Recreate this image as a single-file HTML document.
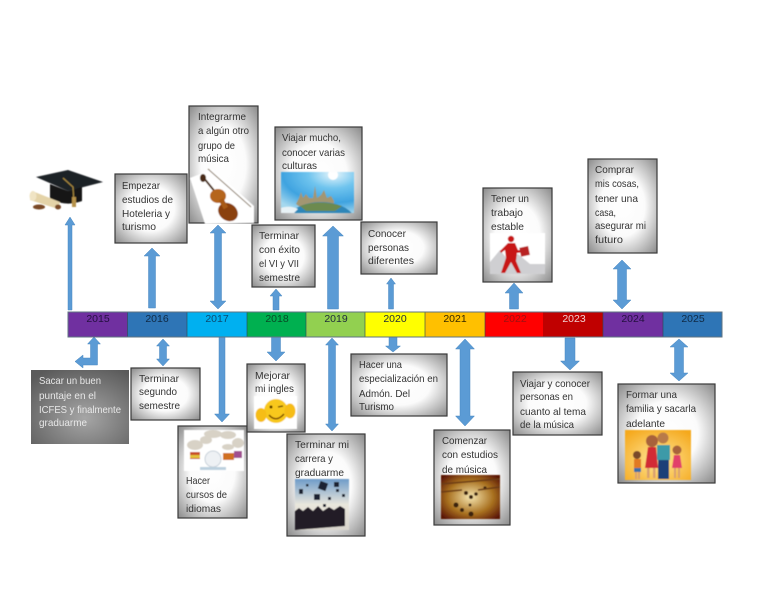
<!DOCTYPE html>
<html><head><meta charset="utf-8"><style>
html,body{margin:0;padding:0;background:#fff}
svg{display:block}
text{font-family:"Liberation Sans",sans-serif;font-size:10.5px;fill:#333}
.y{text-anchor:middle;font-size:10.5px;fill:#1d2a3a}
.w text{fill:#e8e8e8}
.a{fill:#5b9bd5;stroke:#4a88c0;stroke-width:.5}
.b{stroke:#3a3a3a;stroke-width:1.2}
</style></head><body>
<svg width="768" height="594" viewBox="0 0 768 594" xmlns="http://www.w3.org/2000/svg">
<defs>
<radialGradient id="g" cx=".5" cy=".5" r=".72"><stop offset="0" stop-color="#fff"/><stop offset=".45" stop-color="#fbfbfb"/><stop offset="1" stop-color="#858585"/></radialGradient>
<radialGradient id="d" cx=".55" cy=".65" r=".75"><stop offset="0" stop-color="#a6a6a6"/><stop offset="1" stop-color="#5a5a5a"/></radialGradient>
<radialGradient id="sky" cx=".72" cy=".05" r="1"><stop offset="0" stop-color="#e8f6fc"/><stop offset=".35" stop-color="#6fc4ee"/><stop offset=".7" stop-color="#3fa3e0"/><stop offset="1" stop-color="#a5d8ee"/></radialGradient>
<radialGradient id="mus" cx=".5" cy=".5" r=".65"><stop offset="0" stop-color="#f6e6b0"/><stop offset=".6" stop-color="#a8701f"/><stop offset="1" stop-color="#5a1505"/></radialGradient>
<radialGradient id="fam" cx=".5" cy=".6" r=".7"><stop offset="0" stop-color="#ffe89a"/><stop offset="1" stop-color="#f5a91e"/></radialGradient>
<linearGradient id="ph" x1="0" y1="0" x2="0" y2="1"><stop offset="0" stop-color="#6f9cc9"/><stop offset=".5" stop-color="#e9e6dc"/><stop offset="1" stop-color="#d8d4cc"/></linearGradient>
<clipPath id="wc"><rect x="281" y="172" width="73" height="41"/></clipPath>
<filter id="bl" x="-5%" y="-5%" width="110%" height="110%"><feGaussianBlur stdDeviation=".5"/></filter>
</defs>

<!-- arrows top -->
<polygon class="a" points="70,217 75,225 72,225 72,310 68,310 68,225 65,225"/>
<polygon class="a" points="152,248 160,256 155.5,256 155.5,308 148.5,308 148.5,256 144,256"/>
<polygon class="a" points="218,225 226,233 221.5,233 221.5,301 226,301 218,309 210,301 214.5,301 214.5,233 210,233"/>
<polygon class="a" points="276,289 282,296 279,296 279,310 273,310 273,296 270,296"/>
<polygon class="a" points="333,226 343.5,236 338.5,236 338.5,309 327.5,309 327.5,236 322.5,236"/>
<polygon class="a" points="391,278 395.5,284 393.5,284 393.5,309 388.5,309 388.5,284 386.5,284"/>
<polygon class="a" points="514,283 523,293 518.5,293 518.5,309 509.5,309 509.5,293 505,293"/>
<polygon class="a" points="622,260 631,269 626.5,269 626.5,300 631,300 622,309 613,300 617.5,300 617.5,269 613,269"/>

<!-- arrows bottom -->
<polygon class="a" points="94,337 100.5,344 97.5,344 97.5,365 83,365 83,368 75,361.5 83,355 83,358 90.5,358 90.5,344 87.5,344"/>
<polygon class="a" points="163,339 169.5,346 166.5,346 166.5,359 169.5,359 163,366 156.5,359 159.5,359 159.5,346 156.5,346"/>
<polygon class="a" points="219,337 225,337 225,414 229.5,414 222,422 214.5,414 219,414"/>
<polygon class="a" points="271.5,337 280.5,337 280.5,352 285,352 276,361 267,352 271.5,352"/>
<polygon class="a" points="332,338 338.5,345 335.5,345 335.5,424 338.5,424 332,431 325.5,424 328.5,424 328.5,345 325.5,345"/>
<polygon class="a" points="389,337 397,337 397,346 400.5,346 393,352 385.5,346 389,346"/>
<polygon class="a" points="465,339 474.5,349 470,349 470,416 474.5,416 465,426 455.5,416 460,416 460,349 455.5,349"/>
<polygon class="a" points="565,338 575,338 575,361 579.5,361 570,370 560.5,361 565,361"/>
<polygon class="a" points="679,339 688,347 683.5,347 683.5,373 688,373 679,381 670,373 674.5,373 674.5,347 670,347"/>

<!-- bar -->
<rect x="68" y="312" width="59.5" height="25" fill="#7030a0"/>
<rect x="127.5" y="312" width="59.5" height="25" fill="#2e75b6"/>
<rect x="187" y="312" width="60" height="25" fill="#00b0f0"/>
<rect x="247" y="312" width="59" height="25" fill="#00b050"/>
<rect x="306" y="312" width="59" height="25" fill="#92d050"/>
<rect x="365" y="312" width="60" height="25" fill="#ffff00"/>
<rect x="425" y="312" width="60" height="25" fill="#ffc000"/>
<rect x="485" y="312" width="58" height="25" fill="#ff0000"/>
<rect x="543" y="312" width="60" height="25" fill="#c00000"/>
<rect x="603" y="312" width="60" height="25" fill="#7030a0"/>
<rect x="663" y="312" width="59" height="25" fill="#2e75b6"/>
<g stroke="#2f4a55" stroke-width=".8" opacity=".8"><path d="M127.5 312V337M187 312V337M247 312V337M306 312V337M365 312V337M425 312V337M485 312V337M603 312V337M663 312V337"/></g>
<rect x="68" y="312" width="654" height="25" fill="none" stroke="#5f7382" stroke-width="1"/>
<text class="y" x="98" y="322" style="fill:#241040">2015</text>
<text class="y" x="157" y="322" style="fill:#102a45">2016</text>
<text class="y" x="217" y="322" style="fill:#0b4a70">2017</text>
<text class="y" x="277" y="322" style="fill:#084a26">2018</text>
<text class="y" x="336" y="322">2019</text>
<text class="y" x="395" y="322">2020</text>
<text class="y" x="455" y="322" style="fill:#332600">2021</text>
<text class="y" x="515" y="322" style="fill:#a01010">2022</text>
<text class="y" x="574" y="322" style="fill:#f0d0d0">2023</text>
<text class="y" x="633" y="322" style="fill:#241040">2024</text>
<text class="y" x="693" y="322" style="fill:#102a45">2025</text>

<!-- boxes -->
<g class="b" fill="url(#g)">
<rect x="115" y="174" width="72" height="69"/>
<rect x="189" y="106" width="69" height="117"/>
<rect x="275" y="127" width="87" height="93"/>
<rect x="252" y="225" width="63" height="62"/>
<rect x="361" y="222" width="76" height="52"/>
<rect x="483" y="188" width="69" height="94"/>
<rect x="588" y="159" width="69" height="94"/>
<rect x="131" y="368" width="69" height="52"/>
<rect x="178" y="426" width="69" height="92"/>
<rect x="247" y="364" width="58" height="68"/>
<rect x="287" y="434" width="78" height="102"/>
<rect x="351" y="354" width="96" height="62"/>
<rect x="434" y="430" width="76" height="95"/>
<rect x="513" y="372" width="89" height="63"/>
<rect x="618" y="384" width="97" height="99"/>
</g>
<rect x="31" y="370" width="98" height="74" fill="url(#d)"/>

<g filter="url(#bl)">
<!-- cap image -->
<polygon points="36,177 68,170 103,182 68,191" fill="#1e2126"/>
<path d="M50,184 L68,191 L82,187 L82,201 Q66,207 50,199Z" fill="#141519"/>
<path d="M63,178 L73,187 L74,203" stroke="#a8893c" stroke-width="1.2" fill="none"/>
<rect x="72" y="197" width="4" height="10" fill="#b6924a"/>
<polygon points="32,191 60,202 58,209 30,200" fill="#e4d3a8"/>
<ellipse cx="33" cy="196" rx="3.500" ry="5" fill="#f0e4c4"/>
<ellipse cx="39" cy="207" rx="6" ry="2.500" fill="#7a4a26"/>
<ellipse cx="58" cy="207" rx="3" ry="2.500" fill="#7a4a26"/>

<!-- violin image -->
<polygon points="190,178 213,169 254,206 254,223 205,224" fill="#fff"/>
<path d="M208,169 L251,207" stroke="#8a7a66" stroke-width="1"/>
<path d="M203,177 L216,193" stroke="#4a2a10" stroke-width="2"/>
<ellipse cx="203" cy="178" rx="3" ry="4" fill="#4a2a12"/>
<ellipse cx="218" cy="196" rx="8" ry="7" fill="#b5651a"/>
<ellipse cx="228" cy="212" rx="10.500" ry="8.500" fill="#8a3f0c" transform="rotate(35 228 212)"/>
<rect x="221" y="199" width="5" height="10" fill="#a85a14" transform="rotate(-30 223 204)"/>

<!-- world image -->
<g clip-path="url(#wc)">
<rect x="281" y="172" width="73" height="41" fill="url(#sky)"/>
<circle cx="333" cy="175" r="5" fill="#fff"/>
<path d="M296,204 l3,-6 l2,-6 l2,6 l3,-4 l3,4 l4,0 l2,-12 l2,12 l4,-3 l3,-5 l3,8 l4,-2 l3,5 v6 h-34z" fill="#a29672"/>
<ellipse cx="321" cy="223" rx="35" ry="21" fill="#2f86b8"/>
<path d="M300,206 Q320,199 342,206 L335,211 L306,211Z" fill="#6c8a4f"/>
<path d="M281,208 Q290,205 298,209 L294,213 H281Z" fill="#e8f2f6"/>
</g>

<!-- worker image -->
<rect x="490" y="233" width="55" height="41" fill="#fff"/>
<path d="M490,262 l10,-12 l8,10 l10,-6 l12,10 l15,0 v10 h-55z" fill="#cfcfd2"/>
<circle cx="511" cy="239" r="3.200" fill="#c81818"/>
<path d="M508,243 l7,0 l3,7 l7,0 l0,2 l-8,1 l-1,8 l5,12 l-4,0 l-6,-11 l-6,11 l-4,0 l5,-15 l-1,-8 l-4,3 l-1,-2z" fill="#c81818"/>
<rect x="520" y="247" width="9" height="9" fill="#b82020" transform="rotate(-12 524 251)"/>

<!-- ideas image -->
<rect x="184" y="430" width="60" height="41" fill="#fff"/>
<g fill="#d8d2c6"><ellipse cx="213" cy="434" rx="9" ry="4"/><ellipse cx="228" cy="435" rx="8" ry="4"/><ellipse cx="238" cy="443" rx="6" ry="5"/><ellipse cx="195" cy="445" rx="8" ry="5"/><ellipse cx="206" cy="440" rx="6" ry="4"/><ellipse cx="228" cy="447" rx="6" ry="3"/></g>
<circle cx="213" cy="459" r="8" fill="#eef1f4" stroke="#c9d2da" stroke-width="1"/>
<rect x="190" y="452" width="10" height="7" fill="#c8502a"/><rect x="190" y="455" width="10" height="3" fill="#e3c23a"/>
<rect x="223" y="453" width="11" height="7" fill="#d07020"/><rect x="234" y="451" width="8" height="7" fill="#a05090"/>
<rect x="200" y="467" width="26" height="3" fill="#bcd0de"/>

<!-- emoji image -->
<rect x="254" y="396" width="43" height="33" fill="#fff"/>
<circle cx="276" cy="411" r="12" fill="#f8c81e"/>
<ellipse cx="261" cy="415" rx="5.500" ry="7" fill="#f6bd18"/>
<ellipse cx="290" cy="411" rx="5.500" ry="7.500" fill="#f6bd18"/>
<path d="M269,415 Q276,423 284,414" stroke="#7a4a05" stroke-width="1.500" fill="none"/>
<circle cx="271" cy="407" r="1.500" fill="#5a3a05"/>
<path d="M278,407 l5,-1" stroke="#5a3a05" stroke-width="1.200"/>

<!-- grad photo -->
<rect x="295" y="479" width="54" height="51" fill="url(#ph)"/>
<g fill="#1a2030"><rect x="319" y="482" width="8" height="8" transform="rotate(20 323 486)"/><rect x="334" y="482" width="5" height="5"/><rect x="336" y="489" width="3" height="3"/><rect x="314" y="494" width="6" height="6"/><rect x="299" y="489" width="4" height="5"/><rect x="306" y="484" width="2.500" height="2.500"/><rect x="328" y="497" width="3" height="3"/><rect x="342" y="494" width="3" height="3"/><rect x="323" y="504" width="3" height="3"/></g>
<path d="M295,530 v-19 l4,-3 l4,3 l5,-4 l5,4 l5,-5 l5,5 l6,-4 l5,3 l6,-4 l5,3 v17z" fill="#231c26"/>

<!-- music image -->
<rect x="441" y="475" width="59" height="44" fill="url(#mus)"/>
<g fill="#3a2410"><circle cx="466" cy="493" r="2"/><circle cx="471" cy="497" r="2"/><circle cx="476" cy="494" r="1.800"/><circle cx="456" cy="505" r="2.500"/><circle cx="462" cy="510" r="2"/><circle cx="470" cy="505" r="1.500"/><circle cx="471" cy="514" r="2.500"/><circle cx="485" cy="488" r="1.600"/></g>
<path d="M441,484 L500,479 M441,492 L462,490 M478,490 L500,487" stroke="#6a3a12" stroke-width="1.500"/>

<!-- family image -->
<rect x="625" y="430" width="66" height="50" fill="url(#fam)"/>
<circle cx="637" cy="455" r="4" fill="#7a4a2a"/><rect x="634" y="459" width="7" height="9" fill="#e07a20"/><rect x="634" y="468" width="7" height="4" fill="#3a70a8"/><rect x="635" y="472" width="2" height="7" fill="#d8a070"/><rect x="638" y="472" width="2" height="7" fill="#d8a070"/>
<circle cx="652" cy="441" r="6" fill="#a8623a"/><polygon points="648,447 656,447 658,468 645,468" fill="#d22a34"/><rect x="647" y="468" width="2.500" height="10" fill="#d8a070"/><rect x="653" y="468" width="2.500" height="10" fill="#d8a070"/>
<circle cx="663" cy="438" r="5.500" fill="#b87a48"/><rect x="657" y="445" width="13" height="15" fill="#3d9aa8"/><rect x="658" y="460" width="11" height="19" fill="#1f3f78"/>
<circle cx="677" cy="450" r="4.500" fill="#a8623a"/><polygon points="674,455 680,455 682,468 672,468" fill="#e2406a"/><rect x="674" y="468" width="2" height="10" fill="#d8a070"/><rect x="678" y="468" width="2" height="10" fill="#d8a070"/>
</g>

<!-- text -->
<text x="122" y="189" textLength="38" lengthAdjust="spacingAndGlyphs">Empezar</text>
<text x="122" y="203" textLength="51" lengthAdjust="spacingAndGlyphs">estudios de</text>
<text x="122" y="217" textLength="48" lengthAdjust="spacingAndGlyphs">Hoteleria y</text>
<text x="122" y="230" textLength="34" lengthAdjust="spacingAndGlyphs">turismo</text>

<text x="198" y="120" textLength="48" lengthAdjust="spacingAndGlyphs">Integrarme</text>
<text x="198" y="134" textLength="51" lengthAdjust="spacingAndGlyphs">a algún otro</text>
<text x="198" y="149" textLength="37" lengthAdjust="spacingAndGlyphs">grupo de</text>
<text x="198" y="162" textLength="31" lengthAdjust="spacingAndGlyphs">música</text>

<text x="282" y="141" textLength="59" lengthAdjust="spacingAndGlyphs">Viajar mucho,</text>
<text x="282" y="156" textLength="63" lengthAdjust="spacingAndGlyphs">conocer varias</text>
<text x="282" y="169" textLength="35" lengthAdjust="spacingAndGlyphs">culturas</text>

<text x="259" y="239" textLength="40" lengthAdjust="spacingAndGlyphs">Terminar</text>
<text x="259" y="253" textLength="41" lengthAdjust="spacingAndGlyphs">con éxito</text>
<text x="259" y="267" textLength="40" lengthAdjust="spacingAndGlyphs">el VI y VII</text>
<text x="259" y="281" textLength="41" lengthAdjust="spacingAndGlyphs">semestre</text>

<text x="368" y="237" textLength="38" lengthAdjust="spacingAndGlyphs">Conocer</text>
<text x="368" y="251" textLength="41" lengthAdjust="spacingAndGlyphs">personas</text>
<text x="368" y="264" textLength="46" lengthAdjust="spacingAndGlyphs">diferentes</text>

<text x="491" y="202" textLength="38" lengthAdjust="spacingAndGlyphs">Tener un</text>
<text x="491" y="216" textLength="32" lengthAdjust="spacingAndGlyphs">trabajo</text>
<text x="491" y="230" textLength="33" lengthAdjust="spacingAndGlyphs">estable</text>

<text x="595" y="173" textLength="39" lengthAdjust="spacingAndGlyphs">Comprar</text>
<text x="595" y="187" textLength="44" lengthAdjust="spacingAndGlyphs">mis cosas,</text>
<text x="595" y="202" textLength="43" lengthAdjust="spacingAndGlyphs">tener una</text>
<text x="595" y="216" textLength="21" lengthAdjust="spacingAndGlyphs">casa,</text>
<text x="595" y="229" textLength="51" lengthAdjust="spacingAndGlyphs">asegurar mi</text>
<text x="595" y="243" textLength="28" lengthAdjust="spacingAndGlyphs">futuro</text>

<g class="w">
<text x="39" y="384" textLength="62" lengthAdjust="spacingAndGlyphs">Sacar un buen</text>
<text x="39" y="399" textLength="57" lengthAdjust="spacingAndGlyphs">puntaje en el</text>
<text x="39" y="413" textLength="82" lengthAdjust="spacingAndGlyphs">ICFES y finalmente</text>
<text x="39" y="426" textLength="48" lengthAdjust="spacingAndGlyphs">graduarme</text>
</g>

<text x="139" y="382" textLength="40" lengthAdjust="spacingAndGlyphs">Terminar</text>
<text x="139" y="395" textLength="38" lengthAdjust="spacingAndGlyphs">segundo</text>
<text x="139" y="409" textLength="41" lengthAdjust="spacingAndGlyphs">semestre</text>

<text x="186" y="484" textLength="24" lengthAdjust="spacingAndGlyphs">Hacer</text>
<text x="186" y="498" textLength="41" lengthAdjust="spacingAndGlyphs">cursos de</text>
<text x="186" y="512" textLength="35" lengthAdjust="spacingAndGlyphs">idiomas</text>

<text x="255" y="379" textLength="35" lengthAdjust="spacingAndGlyphs">Mejorar</text>
<text x="255" y="392" textLength="39" lengthAdjust="spacingAndGlyphs">mi ingles</text>

<text x="295" y="448" textLength="54" lengthAdjust="spacingAndGlyphs">Terminar mi</text>
<text x="295" y="462" textLength="38" lengthAdjust="spacingAndGlyphs">carrera y</text>
<text x="295" y="476" textLength="49" lengthAdjust="spacingAndGlyphs">graduarme</text>

<text x="359" y="368" textLength="43" lengthAdjust="spacingAndGlyphs">Hacer una</text>
<text x="359" y="382" textLength="79" lengthAdjust="spacingAndGlyphs">especialización en</text>
<text x="359" y="397" textLength="51" lengthAdjust="spacingAndGlyphs">Admón. Del</text>
<text x="359" y="410" textLength="35" lengthAdjust="spacingAndGlyphs">Turismo</text>

<text x="442" y="444" textLength="45" lengthAdjust="spacingAndGlyphs">Comenzar</text>
<text x="442" y="458" textLength="56" lengthAdjust="spacingAndGlyphs">con estudios</text>
<text x="442" y="473" textLength="45" lengthAdjust="spacingAndGlyphs">de música</text>

<text x="520" y="387" textLength="70" lengthAdjust="spacingAndGlyphs">Viajar y conocer</text>
<text x="520" y="400" textLength="53" lengthAdjust="spacingAndGlyphs">personas en</text>
<text x="520" y="415" textLength="66" lengthAdjust="spacingAndGlyphs">cuanto al tema</text>
<text x="520" y="428" textLength="54" lengthAdjust="spacingAndGlyphs">de la música</text>

<text x="626" y="398" textLength="51" lengthAdjust="spacingAndGlyphs">Formar una</text>
<text x="626" y="412" textLength="70" lengthAdjust="spacingAndGlyphs">familia y sacarla</text>
<text x="626" y="427" textLength="39" lengthAdjust="spacingAndGlyphs">adelante</text>
</svg>
</body></html>
